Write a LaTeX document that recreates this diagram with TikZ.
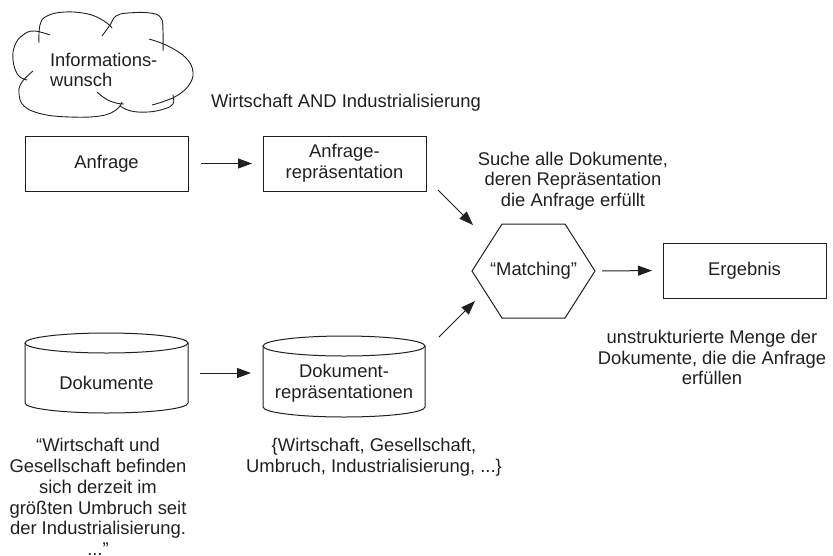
\documentclass[tikz,border=0pt]{standalone}
\usepackage{fontspec}
\setmainfont{Liberation Sans}
\usetikzlibrary{arrows.meta,calc}
\definecolor{ink}{RGB}{35,31,32}
\begin{document}
\begin{tikzpicture}[x=1pt,y=-1pt,
  every node/.style={text=ink,font=\fontsize{18.4}{20.7}\selectfont,inner sep=0pt,outer sep=0pt},
  line/.style={draw=ink,line width=1pt},
  box/.style={line,rectangle,minimum width=163pt,minimum height=55pt},
  txt/.style={align=center},
  arr/.style={draw=ink,line width=1pt,-{Triangle[length=14pt,width=10pt]}},
  cloudline/.style={draw=ink,line width=0.9pt,smooth,tension=0.7}]
\useasboundingbox (0,0) rectangle (833,555);

% cloud around the information need
\draw[cloudline] plot coordinates {(27,80) (18,75) (13,60) (15,45) (23,35) (34,31) (50,35)};
\draw[cloudline] plot coordinates {(39,43) (40,25) (47,16) (65,12) (88,14) (104,21) (112,28)};
\draw[cloudline] plot coordinates {(102,36) (110,25) (116,16) (128,13) (150,13) (161,18) (163,32) (163,51)};
\draw[cloudline] plot coordinates {(149,39) (168,46) (186,58) (193,72) (189,85) (178,95) (165,101) (152,105)};
\draw[cloudline] plot coordinates {(173,95) (173,104) (164,109) (148,112) (131,111) (120,106)};
\draw[cloudline] plot coordinates {(97,92) (106,99) (116,103) (124,104)};
\draw[cloudline] plot coordinates {(122,102) (116,110) (100,116) (70,117) (42,114) (24,106) (19,93) (22,82) (33,71)};
\node[align=left,anchor=west] (wunsch) at (50,70) {Informations-\\wunsch};

% query side
\node (querytext) at (346,103) {Wirtschaft AND Industrialisierung};
\node[box] (anf) at (106.5,163.5) {Anfrage};
\node[box,txt] (arep) at (344.5,163.5) {Anfrage-\\repräsentation};
\node[txt] (suche) at (573,181) {Suche alle Dokumente,\\deren Repräsentation\\die Anfrage erfüllt};

% matching and result
\node[rectangle,minimum width=123pt,minimum height=94pt] (match) at (533.5,271) {“Matching”};
\draw[line] (match.west) -- ([xshift=30pt]match.north west) -- ([xshift=-30pt]match.north east)
  -- (match.east) -- ([xshift=-30pt]match.south east) -- ([xshift=30pt]match.south west) -- cycle;
\node[box] (erg) at (744.5,270.5) {Ergebnis};
\node[txt] (ergtext) at (712,357.5) {unstrukturierte Menge der\\Dokumente, die die Anfrage\\erfüllen};

% document side: cylinders
\node[rectangle,minimum width=163pt,minimum height=80pt] (dok) at (106.5,373) {};
\draw[line] ([yshift=-10pt]dok.north west) -- ([yshift=10pt]dok.south west)
  arc[start angle=180,end angle=360,x radius=81.5pt,y radius=10pt] -- ([yshift=-10pt]dok.north east);
\draw[line] ([yshift=-10pt]dok.north) ellipse[x radius=81.5pt,y radius=10pt];
\node (doktxt) at (106.5,383) {Dokumente};

\node[rectangle,minimum width=162pt,minimum height=81pt] (dr) at (344,376.5) {};
\draw[line] ([yshift=-10pt]dr.north west) -- ([yshift=10pt]dr.south west)
  arc[start angle=180,end angle=360,x radius=81pt,y radius=10pt] -- ([yshift=-10pt]dr.north east);
\draw[line] ([yshift=-10pt]dr.north) ellipse[x radius=81pt,y radius=10pt];
\node[txt] (drtxt) at (344,383) {Dokument-\\repräsentationen};

\node[txt] (quote) at (98,497) {“Wirtschaft und\\Gesellschaft befinden\\sich derzeit im\\größten Umbruch seit\\der Industrialisierung.\\...”};
\node[txt] (terms) at (374,457.5) {\{Wirtschaft, Gesellschaft,\\Umbruch, Industrialisierung, ...\}};

% connectors
\draw[arr,shorten <=13pt,shorten >=11pt] (anf.east) -- (arep.west);
\draw[arr,shorten <=12pt,shorten >=12pt] (dok.east) -- (dok.east -| dr.west);
\draw[arr,shorten <=7pt,shorten >=11pt] (match.east) -- (erg.west);
\draw[arr] ([xshift=12pt,yshift=1pt]arep.south east) -- ([xshift=1pt,yshift=-1pt]match.north west);
\draw[arr] ([xshift=14pt,yshift=-1pt]dr.north east) -- ([xshift=3pt,yshift=17pt]match.south west);
\end{tikzpicture}
\end{document}
